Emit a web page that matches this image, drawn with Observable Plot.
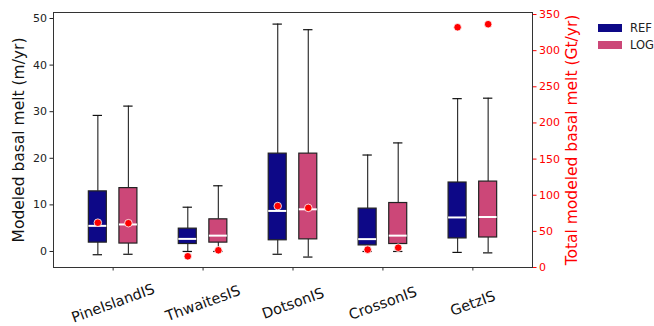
<!DOCTYPE html>
<html>
<head>
<meta charset="utf-8">
<script src="https://cdn.jsdelivr.net/npm/d3@7"></script>
<script src="https://cdn.jsdelivr.net/npm/@observablehq/plot@0.6"></script>
<style>
  body { margin: 0; background: #fff; font-family: "DejaVu Sans", sans-serif; }
  #wrap { position: relative; width: 654px; height: 326px; }
  #legend { position: absolute; left: 598px; top: 19px; font-size: 11.5px; color: #222; }
  .li { display: flex; align-items: center; height: 17px; }
  .sw { width: 24px; height: 8px; margin-right: 8px; }
</style>
</head>
<body>
<div id="wrap"></div>
<script>
const categories = ["PineIslandIS", "ThwaitesIS", "DotsonIS", "CrossonIS", "GetzIS"];
const seriesNames = ["REF", "LOG"];
const seriesColors = ["#0d0887", "#cc4778"];

// Box statistics (m/yr), left axis
const refLow    = [-0.7, 0.0, -0.6, 0.0, -0.2];
const refQ1     = [1.9, 1.6, 2.4, 1.3, 2.8];
const refMedian = [5.5, 2.7, 8.7, 2.65, 7.3];
const refQ3     = [12.9, 4.9, 21.0, 9.2, 14.8];
const refHigh   = [29.2, 9.5, 48.8, 20.7, 32.8];

const logLow    = [-0.6, 0.0, -1.2, 0.0, -0.3];
const logQ1     = [1.7, 1.9, 2.6, 1.6, 3.0];
const logMedian = [5.8, 3.4, 9.05, 3.4, 7.4];
const logQ3     = [13.6, 6.9, 21.0, 10.4, 15.0];
const logHigh   = [31.2, 14.1, 47.6, 23.3, 32.9];

// Total modeled basal melt (Gt/yr), right axis
const refTotal = [62, 15.5, 85, 24.7, 332.4];
const logTotal = [61.3, 23.8, 82.5, 27.4, 336.6];

const leftTicks = [0, 10, 20, 30, 40, 50];
const rightTicks = [0, 50, 100, 150, 200, 250, 300, 350];

const leftDomain = [-3.44, 51.29];
const rightDomain = [0, 352.8];
const toLeft = r => leftDomain[0] + (r - rightDomain[0]) / (rightDomain[1] - rightDomain[0]) * (leftDomain[1] - leftDomain[0]);

const offsets = [-0.17, 0.17];
const halfBox = 0.1, halfCap = 0.052;

const stats = [
  {low: refLow, q1: refQ1, med: refMedian, q3: refQ3, high: refHigh, total: refTotal},
  {low: logLow, q1: logQ1, med: logMedian, q3: logQ3, high: logHigh, total: logTotal}
];
const rows = [];
categories.forEach((c, i) => {
  seriesNames.forEach((s, k) => {
    const st = stats[k];
    rows.push({
      cat: c, series: s, x: i + 1 + offsets[k],
      low: st.low[i], q1: st.q1[i], med: st.med[i], q3: st.q3[i], high: st.high[i],
      total: st.total[i]
    });
  });
});

const catPos = categories.map((c, i) => ({cat: c, x: i + 1}));

const plot = Plot.plot({
  width: 654,
  height: 326,
  marginLeft: 53,
  marginRight: 122,
  marginTop: 12,
  marginBottom: 59,
  style: {fontFamily: "DejaVu Sans, sans-serif", background: "#fff"},
  x: {domain: [0.337, 5.663], axis: null},
  y: {domain: leftDomain, axis: null},
  color: {domain: seriesNames, range: seriesColors},
  marks: [
    // whiskers
    Plot.ruleX(rows, {x: "x", y1: "high", y2: "q3", stroke: "#333", strokeWidth: 1.2}),
    Plot.ruleX(rows, {x: "x", y1: "q1", y2: "low", stroke: "#333", strokeWidth: 1.2}),
    Plot.ruleY(rows, {y: "high", x1: d => d.x - halfCap, x2: d => d.x + halfCap, stroke: "#111", strokeWidth: 1.2}),
    Plot.ruleY(rows, {y: "low", x1: d => d.x - halfCap, x2: d => d.x + halfCap, stroke: "#111", strokeWidth: 1.2}),
    // boxes
    Plot.rect(rows, {x1: d => d.x - halfBox, x2: d => d.x + halfBox, y1: "q1", y2: "q3", fill: "series", stroke: "#222", strokeWidth: 1.2}),
    // medians
    Plot.ruleY(rows, {y: "med", x1: d => d.x - halfBox, x2: d => d.x + halfBox, stroke: "white", strokeWidth: 2}),
    // totals (right axis)
    Plot.dot(rows, {x: "x", y: d => toLeft(d.total), r: 3.8, fill: "red", stroke: "white", strokeWidth: 0.8}),
    // frame
    Plot.frame({stroke: "#333", strokeWidth: 1}),
    // left axis
    Plot.axisY(leftTicks, {anchor: "left", tickSize: 3.5, tickPadding: 3, fontSize: 11, label: null, color: "#222"}),
    // right axis
    Plot.axisY(rightTicks.map(toLeft), {anchor: "right", tickSize: 3.5, tickPadding: 3, fontSize: 11, label: null, color: "red",
      tickFormat: (d, i) => String(rightTicks[i])}),
    // bottom ticks
    Plot.axisX(catPos.map(d => d.x), {anchor: "bottom", tickSize: 3.5, tickFormat: () => "", label: null, color: "#333"}),
    // category labels
    Plot.text(catPos, {x: "x", text: "cat", frameAnchor: "bottom", dy: 36, rotate: -20, fontSize: 14.5, textAnchor: "middle", lineAnchor: "middle", fill: "#111"}),
    // axis titles
    Plot.text(["Modeled basal melt (m/yr)"], {frameAnchor: "left", dx: -34, rotate: -90, fontSize: 15.5, text: d => d, fill: "#111", textAnchor: "middle", lineAnchor: "middle"}),
    Plot.text(["Total modeled basal melt (Gt/yr)"], {frameAnchor: "right", dx: 40, rotate: -90, fontSize: 15.5, text: d => d, fill: "red", textAnchor: "middle", lineAnchor: "middle"})
  ]
});

document.getElementById("wrap").appendChild(plot);

const legend = document.createElement("div");
legend.id = "legend";
seriesNames.forEach((s, k) => {
  const item = document.createElement("div");
  item.className = "li";
  const sw = document.createElement("span");
  sw.className = "sw";
  sw.style.background = seriesColors[k];
  const lab = document.createElement("span");
  lab.textContent = s;
  item.appendChild(sw);
  item.appendChild(lab);
  legend.appendChild(item);
});
document.getElementById("wrap").appendChild(legend);
</script>
</body>
</html>
